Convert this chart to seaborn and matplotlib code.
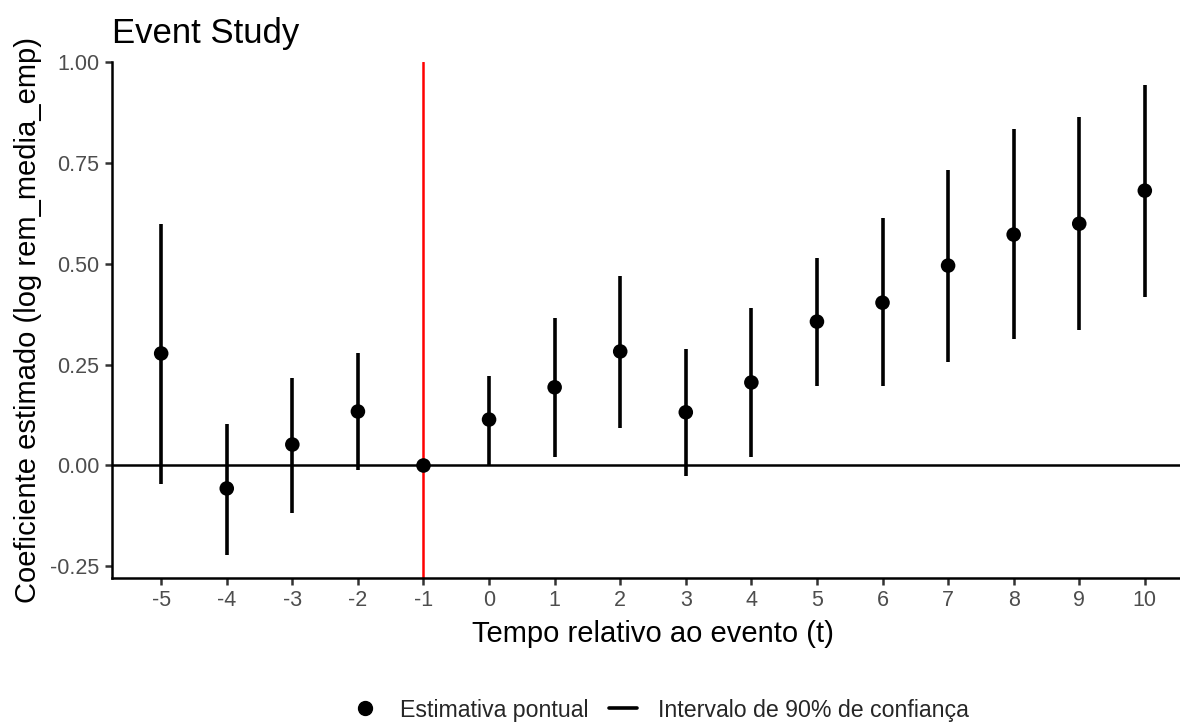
import matplotlib
matplotlib.use("Agg")
import matplotlib.pyplot as plt
from matplotlib.lines import Line2D
import seaborn as sns
import pandas as pd
import numpy as np

# Data
periods = [-5, -4, -3, -2, -1, 0, 1, 2, 3, 4, 5, 6, 7, 8, 9, 10]
estimates = [0.278, -0.057, 0.052, 0.134, 0.0, 0.114, 0.194, 0.283, 0.132, 0.206,
             0.357, 0.404, 0.496, 0.573, 0.600, 0.682]
ci_low = [-0.047, -0.221, -0.117, -0.010, 0.0, 0.0, 0.020, 0.094, -0.025, 0.020,
          0.196, 0.196, 0.258, 0.315, 0.337, 0.419]
ci_high = [0.600, 0.104, 0.216, 0.278, 0.0, 0.223, 0.367, 0.469, 0.288, 0.392,
           0.516, 0.613, 0.734, 0.834, 0.864, 0.943]
y_ticks = [-0.25, 0.0, 0.25, 0.50, 0.75, 1.00]

df = pd.DataFrame({"t": periods, "est": estimates, "lo": ci_low, "hi": ci_high})

sns.set_theme(style="white")
plt.rcParams['font.family'] = ['Liberation Sans', 'DejaVu Sans']
plt.rcParams['axes.unicode_minus'] = False

fig = plt.figure(figsize=(11.8, 7.22), dpi=100)
ax = fig.add_axes([112/1180, 1 - 578/722, (1194 - 112)/1180, (578 - 62)/722])

ax.axhline(0, color="black", lw=1.8, zorder=1)
ax.axvline(-1, color="red", lw=1.8, zorder=1)
ax.vlines(df["t"], df["lo"], df["hi"], color="black", lw=2.6, zorder=2)
sns.scatterplot(data=df, x="t", y="est", color="black", s=110, edgecolor="none",
                zorder=3, ax=ax, legend=False)

rng = max(ci_high) - min(ci_low)
ax.set_ylim(min(ci_low) - 0.05 * rng, max(ci_high) + 0.05 * rng)
ax.set_xlim(min(periods) - 0.75, max(periods) + 0.75)
ax.set_xticks(periods)
ax.set_xticklabels([str(p) for p in periods])
ax.set_yticks(y_ticks)
ax.set_yticklabels([f"{v:.2f}" for v in y_ticks])

for s in ["top", "right"]:
    ax.spines[s].set_visible(False)
for s in ["left", "bottom"]:
    ax.spines[s].set_color("black")
    ax.spines[s].set_linewidth(1.8)

ax.tick_params(axis="both", which="major", length=5, width=1.8, color="#333333",
               labelsize=15.5, labelcolor="#4D4D4D", pad=4, bottom=True, left=True)

ax.set_xlabel("Tempo relativo ao evento (t)", fontsize=21, color="black", labelpad=6)
ax.set_ylabel("Coeficiente estimado (log rem_media_emp)", fontsize=21, color="black", labelpad=6)
ax.set_title("Event Study", fontsize=25, loc="left", color="black", pad=14)

handles = [
    Line2D([0], [0], marker="o", color="black", linestyle="none", markersize=10),
    Line2D([0], [0], color="black", lw=2.6),
]
fig.legend(handles, ["Estimativa pontual", "Intervalo de 90% de confiança"],
           loc="center", bbox_to_anchor=(660/1180, 1 - 710/722), ncol=2, frameon=False,
           fontsize=16.7, handlelength=1.2, columnspacing=0.9, handletextpad=0.9,
           borderpad=0.2)

fig.savefig("out.png", dpi=100)
